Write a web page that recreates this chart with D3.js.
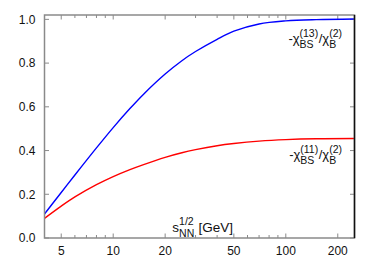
<!DOCTYPE html>
<html>
<head>
<meta charset="utf-8">
<script src="https://cdn.jsdelivr.net/npm/d3@7"></script>
<style>
  html, body { margin: 0; padding: 0; background: #fff; }
  svg { display: block; font-family: "Liberation Sans", Arial, sans-serif; }
</style>
</head>
<body>
<svg id="chart"></svg>
<script>
// sqrt(s_NN) in GeV
const sNN = [4, 5, 6, 8, 10, 12.5, 15, 20, 25, 30, 40, 50, 70, 100, 150, 250];
// -chi_BS^(13)/chi_B^(2)
const chi13 = [0.110, 0.208, 0.288, 0.412, 0.505, 0.592, 0.658, 0.750, 0.811, 0.853, 0.909, 0.946, 0.979, 0.993, 0.999, 1.002];
// -chi_BS^(11)/chi_B^(2)
const chi11 = [0.090, 0.146, 0.188, 0.244, 0.281, 0.313, 0.336, 0.369, 0.390, 0.404, 0.422, 0.432, 0.443, 0.450, 0.454, 0.455];

const xMajor = [5, 10, 20, 50, 100, 200];
const xMinor = [6, 7, 8, 9, 30, 40, 60, 70, 80, 90];
const yTicks = [0, 0.2, 0.4, 0.6, 0.8, 1.0];

const config = {
  width: 376,
  height: 263,
  marginTop: 15,
  marginRight: 21.5,
  marginBottom: 25,
  marginLeft: 44.5,
  frameColor: '#8a8a8a',
  major: 4.5,
  minor: 3,
};

const { width, height, marginTop, marginRight, marginBottom, marginLeft } = config;
const svg = d3.select('#chart').attr('width', width).attr('height', height).attr('viewBox', [0, 0, width, height]);

const x = d3.scaleLog([4, 250], [marginLeft, width - marginRight]);
const y = d3.scaleLinear([0, 1.02], [height - marginBottom, marginTop]);
const x0 = marginLeft, x1 = width - marginRight, y0 = height - marginBottom, y1 = marginTop;

/**
 * ticks (inward, mirrored)
 */
const ticks = svg.append('g').attr('stroke', config.frameColor).attr('stroke-width', 1);
const xt = xMajor.map((v) => ({ v, l: config.major })).concat(xMinor.map((v) => ({ v, l: config.minor })));
ticks.selectAll('.xb').data(xt).join('line')
  .attr('x1', (d) => x(d.v)).attr('x2', (d) => x(d.v))
  .attr('y1', y0).attr('y2', (d) => y0 - d.l);
ticks.selectAll('.xt').data(xt).join('line')
  .attr('x1', (d) => x(d.v)).attr('x2', (d) => x(d.v))
  .attr('y1', y1).attr('y2', (d) => y1 + d.l);
ticks.selectAll('.yl').data(yTicks).join('line')
  .attr('x1', x0).attr('x2', x0 + config.major)
  .attr('y1', (d) => y(d)).attr('y2', (d) => y(d));
ticks.selectAll('.yr').data(yTicks).join('line')
  .attr('x1', x1).attr('x2', x1 - config.major)
  .attr('y1', (d) => y(d)).attr('y2', (d) => y(d));

/**
 * tick labels
 */
svg.append('g').attr('font-size', 12).attr('text-anchor', 'middle').attr('fill', '#111')
  .selectAll('text').data(xMajor).join('text')
  .attr('x', (d) => x(d)).attr('y', y0 + 16.5)
  .text((d) => d);
svg.append('g').attr('font-size', 12).attr('text-anchor', 'end').attr('fill', '#111')
  .selectAll('text').data(yTicks).join('text')
  .attr('x', x0 - 9).attr('y', (d) => y(d) + 4.3)
  .text(d3.format('.1f'));

/**
 * curves
 */
const line = (vals) => d3.line().curve(d3.curveCatmullRom.alpha(0.5))
  .x((d, i) => x(sNN[i])).y((d) => y(d))(vals);
svg.append('path').attr('fill', 'none').attr('stroke', '#0000ff').attr('stroke-width', 1.4).attr('d', line(chi13));
svg.append('path').attr('fill', 'none').attr('stroke', '#ff0000').attr('stroke-width', 1.4).attr('d', line(chi11));

/**
 * frame
 */
svg.append('rect').attr('x', x0).attr('y', y1).attr('width', x1 - x0).attr('height', y0 - y1)
  .attr('fill', 'none').attr('stroke', config.frameColor).attr('stroke-width', 1.5);
svg.append('line').attr('x1', x1).attr('x2', x1).attr('y1', y1).attr('y2', y0)
  .attr('stroke', '#111').attr('stroke-width', 1.5);

/**
 * rich text with stacked sub/superscripts
 */
function richText(parts, opt) {
  const g = svg.append('g').attr('fill', '#111');
  let cx = 0;
  parts.forEach((p) => {
    if (typeof p === 'string') {
      const t = g.append('text').attr('x', cx).attr('y', 0).attr('font-size', opt.main).text(p);
      cx += t.node().getComputedTextLength();
    } else {
      let w = 0;
      if (p.sup) {
        const t = g.append('text').attr('x', cx).attr('y', -opt.supShift).attr('font-size', opt.script).text(p.sup);
        w = Math.max(w, t.node().getComputedTextLength());
      }
      if (p.sub) {
        const t = g.append('text').attr('x', cx).attr('y', opt.subShift).attr('font-size', opt.script).text(p.sub);
        w = Math.max(w, t.node().getComputedTextLength());
      }
      cx += w + (opt.gap || 0);
    }
  });
  const left = opt.anchor === 'end' ? opt.x - cx : opt.x;
  g.attr('transform', `translate(${left},${opt.y})`);
  return g;
}

const labelOpt = { main: 13, script: 10.5, supShift: 6.5, subShift: 4.5, gap: 0.5 };
richText(['-χ', { sup: '(13)', sub: 'BS' }, '/χ', { sup: '(2)', sub: 'B' }],
  { ...labelOpt, anchor: 'end', x: x1 - 12, y: y(0.89) });
richText(['-χ', { sup: '(11)', sub: 'BS' }, '/χ', { sup: '(2)', sub: 'B' }],
  { ...labelOpt, anchor: 'end', x: x1 - 12, y: y(0.36) });

// axis title, inside the frame just above the bottom axis
richText(['s', { sup: '1/2', sub: 'NN' }, '\u00a0[GeV]'],
  { main: 13.5, script: 10.5, supShift: 7, subShift: 5, gap: 0.5, anchor: 'start', x: x(22), y: y0 - 6 });
</script>
</body>
</html>
